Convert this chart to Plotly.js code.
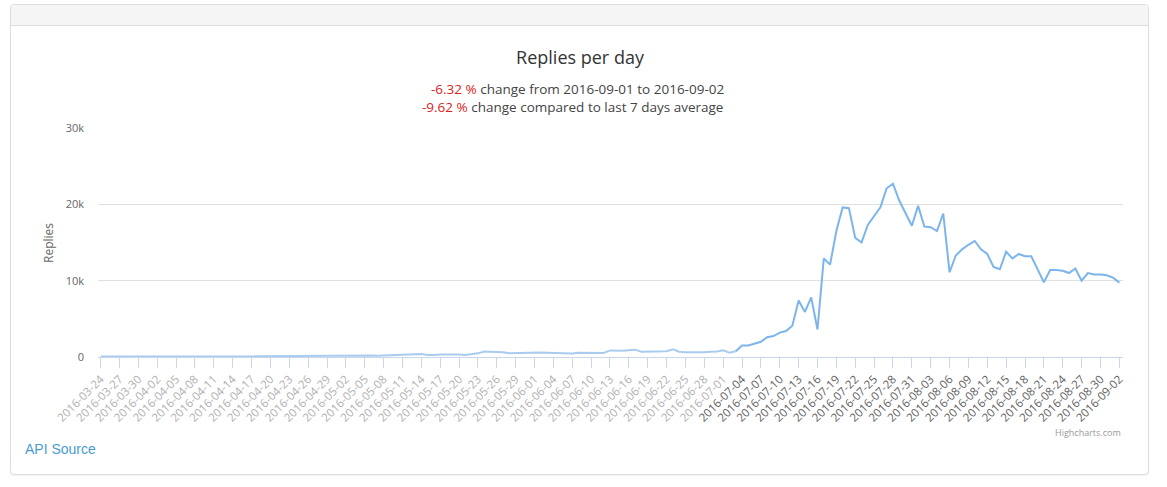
<!DOCTYPE html>
<html><head><meta charset="utf-8">
<script src="https://cdn.plot.ly/plotly-3.0.1.min.js"></script>
<style>
html,body{margin:0;padding:0;background:#fff;width:1167px;height:487px;overflow:hidden;font-family:"Open Sans",sans-serif;}
#panel{position:absolute;left:10px;top:4px;width:1137px;height:469px;border:1px solid #ddd;border-radius:4px;box-shadow:0 1px 1px rgba(0,0,0,.05);background:#fff;}
#hdr{height:20px;background:#f5f5f5;border-bottom:1px solid #ddd;border-radius:3px 3px 0 0;}
#chart{position:absolute;left:0;top:0;width:1167px;height:487px;}
#api{position:absolute;left:25px;top:441px;font-family:"Liberation Sans",Arial,sans-serif;font-size:14px;color:#4a9bd4;text-decoration:none;}
</style></head>
<body>
<div id="panel"><div id="hdr"></div></div>
<div id="chart"></div>
<a id="api" href="#">API Source</a>
<script>
const chartTitle = 'Replies per day';
const dayChange = '-6.32 %';
const weekChange = '-9.62 %';
const startDate = '2016-03-24';
const replies = [
  60, 80, 50, 45, 70, 75, 70, 65,
  70, 90, 60, 75, 80, 85, 80, 75, 60, 65, 85, 90, 95, 90, 85, 70, 75, 100, 110, 105, 115, 110, 120, 100, 140, 150, 160, 170, 165, 140,
  150, 200, 220, 240, 230, 210, 180, 200, 260, 280, 300, 320, 290, 400, 270, 250, 340, 350, 340, 330, 250, 350, 480, 720, 700, 690, 610, 480, 520, 560, 550,
  580, 600, 560, 540, 490, 420, 460, 560, 570, 560, 520, 530, 860, 800, 820, 900, 960, 680, 700, 780, 820, 760, 1000, 700, 620, 600, 600, 620, 700, 720,
  880, 560, 750, 1500, 1500, 1700, 2000, 2600, 2750, 3200, 3400, 4100, 7400, 5900, 7800, 3600, 12900, 12100, 16500, 19600, 19500, 15600, 15000, 17300, 18500, 19600, 22100, 22700, 20500, 18900, 17200,
  19800, 17100, 17000, 16500, 18800, 11100, 13300, 14100, 14700, 15200, 14100, 13500, 11800, 11500, 13800, 12900, 13500, 13200, 13200, 11400, 9800, 11400, 11400, 11300, 11000, 11600, 10000, 11000, 10800, 10800, 10700,
  10400, 9742
];
const yTickVals = [0, 10000, 20000, 30000];
const yTickText = ['0', '10k', '20k', '30k'];
const fadeBefore = '2016-07-03';

const dates = replies.map((_, i) => new Date(Date.UTC(2016, 2, 24 + i)).toISOString().slice(0, 10));
const tickDates = dates.filter((_, i) => i % 3 === 0);
const tickText = tickDates.map(d => d < '2016-07-04' ? '<span style="color:#b0b0b0">' + d + '</span>' : d);
const split = dates.indexOf(fadeBefore);

const W = 1167, H = 487, L = 98, R = 44, T = 128, B = 130;
const PW = W - L - R, PH = H - T - B;
const px = x => (x - L) / PW;
const py = y => (H - B - y) / PH;

const traces = [
  {x: dates.slice(0, split + 1), y: replies.slice(0, split + 1), type: 'scatter', mode: 'lines',
   line: {color: '#a9cbee', width: 2}, hoverinfo: 'x+y', showlegend: false},
  {x: dates.slice(split), y: replies.slice(split), type: 'scatter', mode: 'lines',
   line: {color: '#7cb5ec', width: 2}, hoverinfo: 'x+y', showlegend: false}
];

const layout = {
  width: W, height: H,
  margin: {l: L, r: R, t: T, b: B, pad: 0},
  paper_bgcolor: 'rgba(0,0,0,0)', plot_bgcolor: 'rgba(0,0,0,0)',
  font: {family: '"Open Sans", sans-serif', color: '#666', size: 11},
  title: {text: chartTitle, xref: 'container', yref: 'container', x: 580 / W, y: 1 - 58 / H,
          xanchor: 'center', yanchor: 'middle', font: {size: 18, color: '#333', family: '"Open Sans", sans-serif'}},
  xaxis: {type: 'date', range: ['2016-03-23 14:00', '2016-09-02 14:00'],
          tickmode: 'array', tickvals: tickDates, ticktext: tickText, tickangle: -45,
          ticks: 'outside', ticklen: 10, tickcolor: '#ccd6eb', tickwidth: 1,
          showline: true, linecolor: '#ccd6eb', linewidth: 1, showgrid: false, zeroline: false,
          tickfont: {size: 11.5, color: '#606060'}, fixedrange: true},
  yaxis: {range: [0, 30000], tickmode: 'array', tickvals: yTickVals, ticktext: yTickText,
          showgrid: true, gridcolor: '#e0e0e0', gridwidth: 1, zeroline: false, showline: false,
          ticks: '', ticklabelstandoff: 13, tickfont: {size: 11, color: '#666'}, fixedrange: true},
  annotations: [
    {xref: 'paper', yref: 'paper', x: px(577), y: py(89), xanchor: 'center', yanchor: 'middle', showarrow: false,
     text: '<span style="color:#dd2222">' + dayChange + '</span> change from 2016-09-01 to 2016-09-02',
     font: {size: 13.5, color: '#444'}},
    {xref: 'paper', yref: 'paper', x: px(572), y: py(107), xanchor: 'center', yanchor: 'middle', showarrow: false,
     text: '<span style="color:#dd2222">' + weekChange + '</span> change compared to last 7 days average',
     font: {size: 13.5, color: '#444'}},
    {xref: 'paper', yref: 'paper', x: px(48), y: py(243), xanchor: 'center', yanchor: 'middle', showarrow: false,
     text: 'Replies', textangle: -90, font: {size: 12, color: '#666'}},
    {xref: 'paper', yref: 'paper', x: px(1123), y: py(432), xanchor: 'right', yanchor: 'middle', showarrow: false,
     text: 'Highcharts.com', font: {size: 9, color: '#999'}}
  ]
};
Plotly.newPlot('chart', traces, layout, {displayModeBar: false, staticPlot: true});
</script>
</body></html>
